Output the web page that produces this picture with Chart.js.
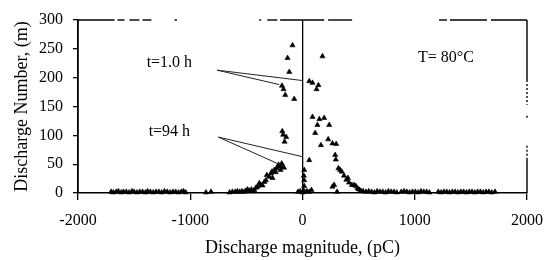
<!DOCTYPE html>
<html lang="en">
<head>
<meta charset="UTF-8">
<title>Discharge distribution</title>
<script src="https://cdn.jsdelivr.net/npm/chart.js@4.4.0/dist/chart.umd.min.js"></script>
<style>
    html, body { margin: 0; padding: 0; background: #fff; }
</style>
</head>
<body>
<canvas id="chart" width="546" height="260"></canvas>
<script>
// values
var xTicks = [-2000, -1000, 0, 1000, 2000];
var yTicks = [0, 50, 100, 150, 200, 250, 300];

// t = 1.0 h (upper cluster)
var t1X = [-183, -169, -154, -133, -118, -89, -74, 60, 89, 125, 142, 178];
var t1Y = [186, 180, 170, 234, 210, 256, 163, 194, 191, 180, 187, 237];

// t = 94 h (and the long tails along the baseline)
var t94X = [
    -1705, -1685, -1660, -1640, -1615, -1595, -1570, -1545, -1520, -1500, -1475, -1450, -1425, -1400, -1380,
    -1355, -1330, -1305, -1280, -1255, -1230, -1205, -1180, -1155, -1130, -1105, -1080, -1060, -1040,
    -860, -815, -650, -625, -600, -580, -560, -540, -520, -505, -490, -480, -470, -455, -440, -430, -415,
    -400, -385, -370, -356, -340, -326, -318, -296, -281, -272, -267, -252, -238, -231, -213, -205, -196,
    -185, -178, -165,
    -180, -172, -160, -145,
    -40, -20, 0, 10, 12, 15, 15, 15, 20, 40, 60, 60, 80,
    89, 113, 133, 150, 164, 193, 229, 238, 267, 267, 282, 291, 297, 300, 308, 320, 335, 350, 370, 391,
    405, 415, 440, 460, 475, 490, 504, 520, 540,
    565, 590, 615, 640, 665, 690, 715, 740, 765, 790, 815, 840, 880, 905, 930, 955, 980, 1005, 1030, 1055,
    1080, 1105, 1130, 1210, 1235, 1260, 1285, 1310, 1335, 1360, 1385, 1410, 1435, 1460, 1485, 1510, 1535,
    1560, 1585, 1610, 1635, 1660, 1685, 1715
];
var t94Y = [
    2, 1, 2, 3, 1, 2, 2, 1, 3, 2, 1, 2, 2, 1, 3,
    2, 1, 2, 2, 1, 3, 2, 1, 2, 2, 1, 2, 3, 1,
    1, 2, 1, 2, 2, 3, 2, 3, 2, 4, 6, 3, 4, 6, 3, 5, 9,
    11, 17, 14, 13, 19, 22, 31, 28, 34, 37, 26, 40, 36, 43, 49, 46, 40,
    51, 46, 44,
    107, 101, 89, 97,
    2, 3, 1, 4, 30, 12, 22, 40, 2, 3, 2, 57, 5,
    132, 104, 118, 128, 83, 130, 93, 118, 86, 11, 14, 66, 58, 85, 2, 43, 40, 37, 30, 23,
    26, 18, 14, 14, 12, 8, 6, 4, 3,
    2, 3, 2, 1, 3, 2, 2, 1, 3, 2, 2, 1, 2, 3, 2, 1, 2, 2, 1, 3,
    2, 2, 1, 2, 1, 2, 2, 1, 2, 2, 1, 2, 2, 1, 2, 2, 1,
    2, 2, 1, 2, 2, 1, 2
];

function toPoints(xs, ys) {
    return xs.map(function (x, i) { return {x: x, y: ys[i]}; });
}

var serif = '"Liberation Serif", "Times New Roman", serif';

// labels, arrows and the broken frame of the scan
var notes = {
    id: 'notes',
    afterDatasetsDraw: function (chart) {
        var c = chart.ctx, xs = chart.scales.x, ys = chart.scales.y;
        var px = function (v) { return xs.getPixelForValue(v); };
        var py = function (v) { return ys.getPixelForValue(v); };
        c.save();
        c.strokeStyle = '#000';
        c.lineWidth = 1.4;
        // top edge, pieces only
        [[-2000, -1675], [-1649, -1586], [-1542, -1453], [-1426, -1346], [-1140, -1118], [-385, -367],
         [-314, -225], [-199, 193], [228, 442], [1216, 1287], [1314, 1643], [1679, 2000]].forEach(function (s) {
            c.beginPath(); c.moveTo(px(s[0]), py(300)); c.lineTo(px(s[1]), py(300)); c.stroke();
        });
        // right edge
        c.beginPath(); c.moveTo(px(2000), py(300)); c.lineTo(px(2000), py(196)); c.stroke();
        c.beginPath(); c.moveTo(px(2000), py(60)); c.lineTo(px(2000), py(0)); c.stroke();
        c.setLineDash([2, 2]);
        c.beginPath(); c.moveTo(px(2000), py(196)); c.lineTo(px(2000), py(153)); c.stroke();
        c.beginPath(); c.moveTo(px(2000), py(134)); c.lineTo(px(2000), py(130)); c.stroke();
        c.beginPath(); c.moveTo(px(2000), py(82)); c.lineTo(px(2000), py(60)); c.stroke();
        c.setLineDash([]);

        // arrows from the labels
        c.strokeStyle = '#222';
        c.lineWidth = 1;
        [[-760, 213, 0, 195], [-760, 213, -207, 188], [-750, 97, -2, 63], [-750, 97, -163, 46]].forEach(function (a) {
            c.beginPath(); c.moveTo(px(a[0]), py(a[1])); c.lineTo(px(a[2]), py(a[3])); c.stroke();
        });

        c.fillStyle = '#000';
        c.font = '16px ' + serif;
        c.textAlign = 'center';
        c.textBaseline = 'middle';
        c.fillText('t=1.0 h', px(-1186), py(226));
        c.fillText('t=94 h', px(-1186), py(106));
        c.fillText('T= 80°C', px(1278), py(234));
        c.restore();
    }
};

var chart = new Chart(document.getElementById('chart'), {
    type: 'scatter',
    data: {
        datasets: [
            {label: 't=1.0 h', data: toPoints(t1X, t1Y), pointStyle: 'triangle', pointRadius: 3,
             backgroundColor: '#000', borderColor: '#000', borderWidth: 0.6, clip: false},
            {label: 't=94 h', data: toPoints(t94X, t94Y), pointStyle: 'triangle', pointRadius: 3,
             backgroundColor: '#000', borderColor: '#000', borderWidth: 0.6, clip: false}
        ]
    },
    options: {
        responsive: false,
        animation: false,
        layout: {padding: {top: 20, right: 19, left: 0, bottom: 0}},
        plugins: {legend: {display: false}, tooltip: {enabled: false}},
        scales: {
            x: {
                type: 'linear', min: -2000, max: 2000,
                afterBuildTicks: function (s) { s.ticks = xTicks.map(function (v) { return {value: v}; }); },
                afterFit: function (s) { s.height = 67; s.paddingLeft = 0; s.paddingRight = 0; },
                grid: {
                    color: function (ctx) { return ctx.tick && ctx.tick.value === 0 ? '#000' : 'rgba(0,0,0,0)'; },
                    lineWidth: 1.3, tickColor: '#000', tickLength: 7
                },
                border: {display: true, color: '#000', width: 1.5},
                ticks: {color: '#000', padding: 11, maxRotation: 0, font: {family: serif, size: 16},
                        callback: function (v) { return String(v); }},
                title: {display: true, text: 'Discharge magnitude, (pC)', color: '#000',
                        font: {family: serif, size: 18}, padding: {top: 0, bottom: 1}}
            },
            y: {
                type: 'linear', min: 0, max: 300,
                afterBuildTicks: function (s) { s.ticks = yTicks.map(function (v) { return {value: v}; }); },
                afterFit: function (s) { s.width = 78; s.paddingTop = 0; s.paddingBottom = 0; },
                grid: {drawOnChartArea: false, tickColor: '#000', tickLength: 5, lineWidth: 1.3},
                border: {display: true, color: '#000', width: 1.8},
                ticks: {color: '#000', padding: 10, font: {family: serif, size: 16}},
                title: {display: true, text: 'Discharge Number, (m)', color: '#000',
                        font: {family: serif, size: 18}, padding: {top: 11, bottom: 0}}
            }
        }
    },
    plugins: [notes]
});
</script>
</body>
</html>
